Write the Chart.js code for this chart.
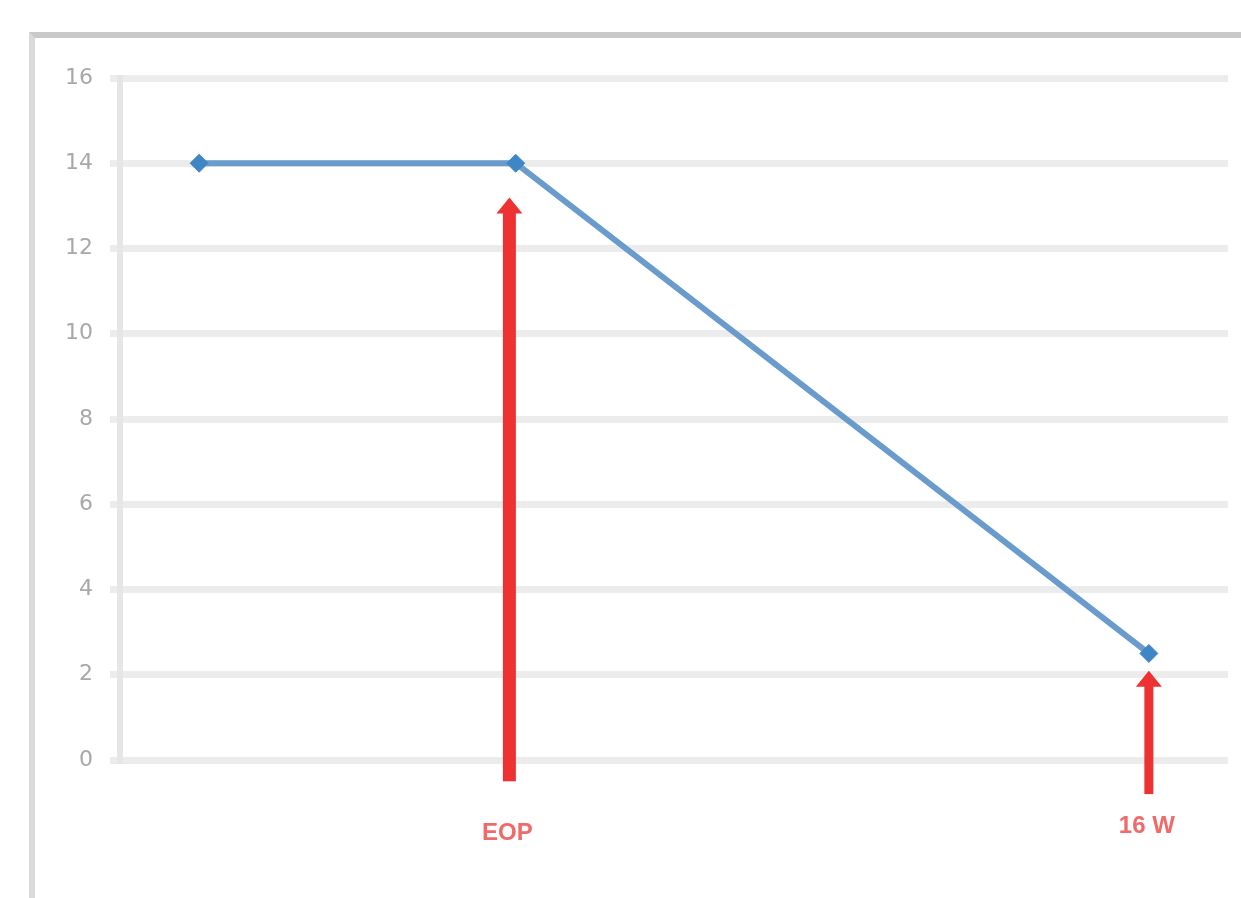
<!DOCTYPE html>
<html>
<head>
<meta charset="utf-8">
<script src="https://cdn.jsdelivr.net/npm/chart.js@4.4.1/dist/chart.umd.min.js"></script>
<style>
  html, body { margin: 0; padding: 0; background: #fff; }
  #wrap { position: relative; width: 1241px; height: 898px; overflow: hidden; }
  #frame { position: absolute; left: 29px; top: 32px; width: 1300px; height: 860px;
           border-left: 6px solid #dadada; border-top: 6px solid #c9c9c9; border-bottom: 3px solid #f4f4f4; }
  #c { position: absolute; left: 0; top: 0; }
</style>
</head>
<body>
<div id="wrap">
  <div id="frame"></div>
  <canvas id="c" width="1241" height="898"></canvas>
</div>
<script>
// série (x linear: 0, 1, 3)
const xVals = [0, 1, 3];
const yVals = [14, 14, 2.5];
const yTicks = [0, 2, 4, 6, 8, 10, 12, 14, 16];

// setas vermelhas + rótulos
const arrowLabels = ['EOP', '16 W'];
const arrowX = [0.98, 3.0];
const arrowFrom = [-0.5, -0.8];
const arrowTo = [13.1, 2.0];
const arrowLabelY = [-1.72, -1.55];

const RED = '#ee3232';
const BLUE_LINE = '#6a9bcd';
const BLUE_PT = '#3f86c6';

const arrowPlugin = {
  id: 'arrows',
  afterDatasetsDraw(chart) {
    const { ctx, scales: { x, y } } = chart;
    ctx.save();
    arrowX.forEach((v, i) => {
      const px = x.getPixelForValue(v);
      const y0 = y.getPixelForValue(arrowFrom[i]);
      const y1 = y.getPixelForValue(arrowTo[i]);
      const w = i === 0 ? 13 : 9;
      const head = 12;
      ctx.fillStyle = RED;
      ctx.fillRect(px - w / 2, y1 + head - 2, w, y0 - y1 - head + 2);
      ctx.beginPath();
      ctx.moveTo(px, y1 - 4);
      ctx.lineTo(px - 13, y1 + head);
      ctx.lineTo(px + 13, y1 + head);
      ctx.closePath();
      ctx.fill();

      ctx.fillStyle = '#f06a6a';
      ctx.font = 'bold 24px "Liberation Sans", Arial, sans-serif';
      ctx.textAlign = 'center';
      ctx.textBaseline = 'middle';
      ctx.fillText(arrowLabels[i], px - 2, y.getPixelForValue(arrowLabelY[i]));
    });
    ctx.restore();
  }
};

new Chart(document.getElementById('c'), {
  type: 'scatter',
  data: {
    datasets: [{
      data: xVals.map((v, i) => ({ x: v, y: yVals[i] })),
      showLine: true,
      borderColor: BLUE_LINE,
      borderWidth: 6,
      pointStyle: 'rectRot',
      pointRadius: 9,
      pointBackgroundColor: BLUE_PT,
      pointBorderColor: BLUE_PT,
      pointBorderWidth: 1
    }]
  },
  options: {
    responsive: false,
    animation: false,
    layout: { padding: { top: 78, right: 13, bottom: 138, left: 0 } },
    plugins: { legend: { display: false }, tooltip: { enabled: false } },
    scales: {
      x: { type: 'linear', min: -0.25, max: 3.25, display: false },
      y: {
        min: 0, max: 16,
        afterBuildTicks: s => { s.ticks = yTicks.map(v => ({ value: v })); },
        afterFit: s => { s.width = 120; },
        grid: { color: '#ececec', lineWidth: 7, tickLength: 10, drawTicks: true },
        border: { color: '#e6e6e6', width: 6 },
        ticks: { color: '#a8a8a8', padding: 17, font: { size: 22, family: 'DejaVu Sans' } }
      }
    }
  },
  plugins: [arrowPlugin]
});
</script>
</body>
</html>
